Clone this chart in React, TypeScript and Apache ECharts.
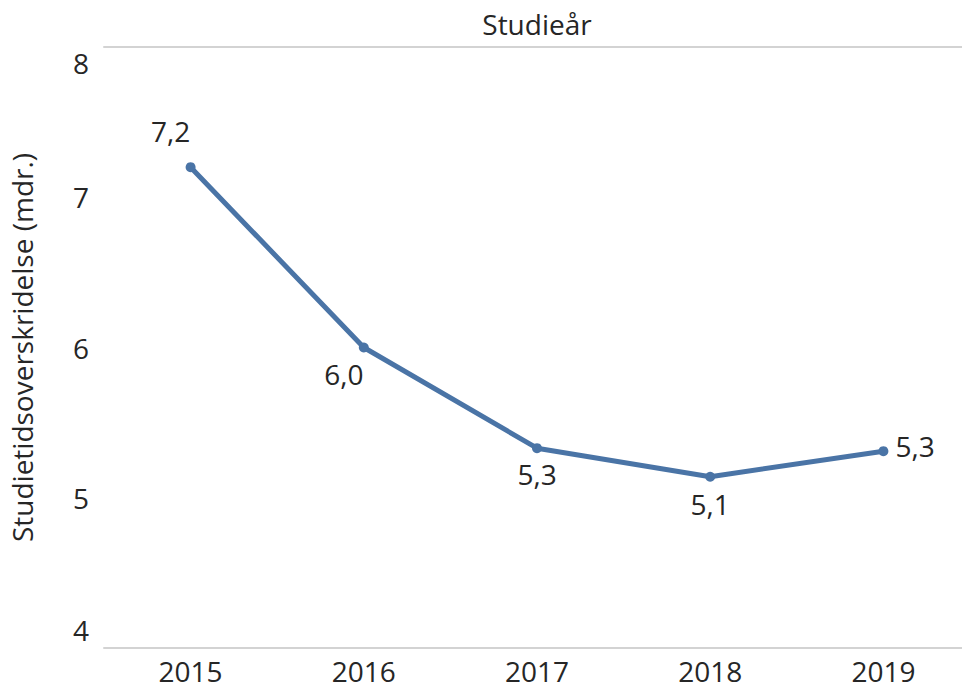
import React, { useEffect, useRef } from "react";
import * as echarts from "echarts";

const years = ["2015", "2016", "2017", "2018", "2019"];
const values = [7.2, 6.0, 5.33, 5.14, 5.31];
const yTicks = [4, 5, 6, 7, 8];
const xName = "Studieår";
const yName = "Studietidsoverskridelse (mdr.)";

const FONT = "'Open Sans', 'Noto Sans', sans-serif";
const TEXT = "#262626";
const LINE = "#4a74a6";
const FS = 28;

export default function App() {
  const ref = useRef<HTMLDivElement>(null);
  useEffect(() => {
    document.body.style.margin = "0";
    const chart = echarts.init(ref.current!, null, { renderer: "svg" });
    const labelCfg = [
      { position: "top", distance: 5, offset: [-20, -12] },
      { position: "bottom", distance: 5, offset: [-20, 2] },
      { position: "bottom", distance: 5, offset: [0, 2] },
      { position: "bottom", distance: 5, offset: [0, 3] },
      { position: "right", distance: 5, offset: [2, -5] },
    ];
    chart.setOption({
      animation: false,
      textStyle: { fontFamily: FONT },
      grid: {
        left: 104,
        top: 47,
        width: 866,
        height: 601,
        containLabel: false,
        outerBoundsMode: "none",
      },
      xAxis: [
        {
          type: "category",
          data: years,
          position: "bottom",
          boundaryGap: true,
          axisLine: { show: true, lineStyle: { color: "#d3d3d3", width: 2 } },
          axisTick: { show: false },
          axisLabel: { color: TEXT, fontSize: FS, fontFamily: FONT, margin: 9 },
          splitLine: { show: false },
        },
        {
          type: "category",
          data: years,
          position: "top",
          boundaryGap: true,
          name: xName,
          nameLocation: "middle",
          nameGap: 9,
          nameTextStyle: { color: TEXT, fontSize: FS, fontFamily: FONT },
          axisLine: { show: true, lineStyle: { color: "#d3d3d3", width: 2 } },
          axisTick: { show: false },
          axisLabel: { show: false },
          splitLine: { show: false },
        },
      ],
      yAxis: {
        type: "value",
        min: yTicks[0],
        max: yTicks[yTicks.length - 1],
        interval: 1,
        name: yName,
        nameLocation: "middle",
        nameGap: 68,
        nameTextStyle: { color: TEXT, fontSize: FS, fontFamily: FONT },
        axisLine: { show: false },
        axisTick: { show: false },
        splitLine: { show: false },
        axisLabel: {
          color: TEXT,
          fontSize: FS,
          fontFamily: FONT,
          margin: 15,
          formatter: (v: number) =>
            v === yTicks[yTicks.length - 1]
              ? `{t|${v}}`
              : v === yTicks[0]
              ? `{b|${v}}`
              : `{n|${v}}`,
          rich: {
            t: { padding: [32, 0, 0, 0], fontSize: FS, color: TEXT, fontFamily: FONT },
            b: { padding: [0, 0, 36, 0], fontSize: FS, color: TEXT, fontFamily: FONT },
            n: { fontSize: FS, color: TEXT, fontFamily: FONT },
          },
        },
      },
      series: [
        {
          type: "line",
          xAxisIndex: 0,
          data: values.map((v, i) => ({
            value: v,
            label: labelCfg[i],
          })),
          symbol: "circle",
          symbolSize: 10,
          itemStyle: { color: LINE },
          lineStyle: { color: LINE, width: 5 },
          label: {
            show: true,
            color: TEXT,
            fontSize: FS,
            fontFamily: FONT,
            formatter: (p: any) => p.value.toFixed(1).replace(".", ","),
          },
        },
      ],
    });
    return () => chart.dispose();
  }, []);
  return <div ref={ref} style={{ width: 962, height: 691 }} />;
}
